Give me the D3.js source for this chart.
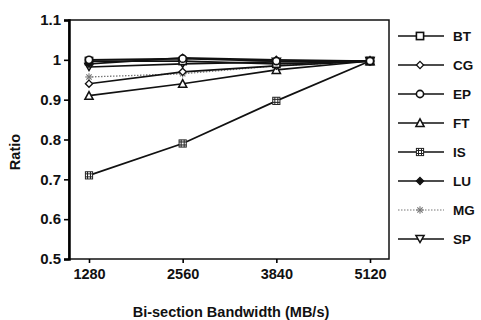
<!DOCTYPE html>
<html>
<head>
<meta charset="utf-8">
<script src="https://cdn.jsdelivr.net/npm/d3@7"></script>
<style>
  body { margin: 0; background: #fff; }
  svg text { font-family: "Liberation Sans", Arial, sans-serif; font-weight: bold; fill: #111; }
</style>
</head>
<body>
<div id="chart"></div>
<script>
const bandwidths = [1280, 2560, 3840, 5120];
const yTicks = [0.5, 0.6, 0.7, 0.8, 0.9, 1, 1.1];

const seriesNames = ["BT", "CG", "EP", "FT", "IS", "LU", "MG", "SP"];
const btVals = [0.997, 0.997, 0.99, 0.997];
const cgVals = [0.94, 0.97, 0.985, 0.997];
const epVals = [1.0, 1.003, 0.997, 0.997];
const ftVals = [0.91, 0.94, 0.975, 0.997];
const isVals = [0.71, 0.79, 0.897, 0.997];
const luVals = [0.99, 1.005, 1.0, 0.997];
const mgVals = [0.957, 0.965, 0.985, 0.997];
const spVals = [0.982, 0.99, 0.995, 0.997];

const symbolsFor = {
	BT: "square", CG: "diamond", EP: "circle", FT: "triangle",
	IS: "hash", LU: "fdiamond", MG: "star", SP: "tridown"
};

const series = [
	{ name: "BT", vals: btVals },
	{ name: "CG", vals: cgVals },
	{ name: "EP", vals: epVals },
	{ name: "FT", vals: ftVals },
	{ name: "IS", vals: isVals },
	{ name: "LU", vals: luVals },
	{ name: "MG", vals: mgVals },
	{ name: "SP", vals: spVals }
];

const W = 481, H = 320;
const plot = { left: 69, right: 389, top: 20, bottom: 259 };

const svg = d3.select("#chart").append("svg")
	.attr("width", W).attr("height", H);

const x = d3.scalePoint()
	.domain(bandwidths)
	.range([89, 370]);

const y = d3.scaleLinear()
	.domain([0.5, 1.1])
	.range([plot.bottom, plot.top]);

// frame
svg.append("rect")
	.attr("x", plot.left).attr("y", plot.top)
	.attr("width", plot.right - plot.left).attr("height", plot.bottom - plot.top)
	.attr("fill", "none").attr("stroke", "#111").attr("stroke-width", 1.5);

svg.append("g")
	.attr("transform", `translate(${plot.left},0)`)
	.call(d3.axisLeft(y).tickValues(yTicks).tickSize(5).tickPadding(3)
		.tickFormat(d => d === 1 ? "1" : d3.format(".1f")(d)))
	.call(g => g.select(".domain").attr("stroke-width", 2.5))
	.call(g => g.selectAll("line").attr("stroke-width", 1.6))
	.call(g => g.selectAll("text").attr("font-size", 15).style("font-family", "Liberation Sans, Arial, sans-serif"));

svg.append("g")
	.attr("transform", `translate(0,${plot.bottom})`)
	.call(d3.axisBottom(x).tickSize(4).tickPadding(6))
	.call(g => g.select(".domain").remove())
	.call(g => g.selectAll("line").attr("stroke-width", 1.6))
	.call(g => g.selectAll("text").attr("font-size", 14.5).style("font-family", "Liberation Sans, Arial, sans-serif"));

svg.append("text")
	.attr("transform", "translate(20,152) rotate(-90)")
	.attr("text-anchor", "middle")
	.attr("font-size", 14.5)
	.text("Ratio");

svg.append("text")
	.attr("x", 231).attr("y", 317)
	.attr("text-anchor", "middle")
	.attr("font-size", 14.5)
	.text("Bi-section Bandwidth (MB/s)");

function drawMarker(g, type, cx, cy) {
	const s = 3.6;
	if (type === "square") {
		g.append("rect").attr("x", cx - s).attr("y", cy - s).attr("width", 2 * s).attr("height", 2 * s)
			.attr("fill", "#fff").attr("stroke", "#111").attr("stroke-width", 1.6);
	} else if (type === "diamond" || type === "fdiamond") {
		g.append("path").attr("d", `M${cx},${cy - s}L${cx + s},${cy}L${cx},${cy + s}L${cx - s},${cy}Z`)
			.attr("fill", type === "fdiamond" ? "#111" : "#fff").attr("stroke", "#111").attr("stroke-width", 1.3);
	} else if (type === "circle") {
		g.append("circle").attr("cx", cx).attr("cy", cy).attr("r", s)
			.attr("fill", "#fff").attr("stroke", "#111").attr("stroke-width", 1.6);
	} else if (type === "triangle") {
		g.append("path").attr("d", `M${cx},${cy - s - 0.5}L${cx + s + 0.5},${cy + s}L${cx - s - 0.5},${cy + s}Z`)
			.attr("fill", "#fff").attr("stroke", "#111").attr("stroke-width", 1.5);
	} else if (type === "tridown") {
		g.append("path").attr("d", `M${cx - s - 0.5},${cy - s}L${cx + s + 0.5},${cy - s}L${cx},${cy + s}Z`)
			.attr("fill", "#fff").attr("stroke", "#111").attr("stroke-width", 1.5);
	} else if (type === "hash") {
		g.append("rect").attr("x", cx - s).attr("y", cy - s).attr("width", 2 * s).attr("height", 2 * s)
			.attr("fill", "#fff").attr("stroke", "#222").attr("stroke-width", 1);
		[-1.5, 1.5].forEach(o => {
			g.append("line").attr("x1", cx + o).attr("x2", cx + o).attr("y1", cy - s).attr("y2", cy + s)
				.attr("stroke", "#222").attr("stroke-width", 1);
			g.append("line").attr("y1", cy + o).attr("y2", cy + o).attr("x1", cx - s).attr("x2", cx + s)
				.attr("stroke", "#222").attr("stroke-width", 1);
		});
	} else if (type === "star") {
		const r = 3.8;
		d3.range(4).forEach(i => {
			const a = i * Math.PI / 4;
			g.append("line")
				.attr("x1", cx - r * Math.cos(a)).attr("y1", cy - r * Math.sin(a))
				.attr("x2", cx + r * Math.cos(a)).attr("y2", cy + r * Math.sin(a))
				.attr("stroke", "#777").attr("stroke-width", 1.1);
		});
	}
}

const line = d3.line().x((v, i) => x(bandwidths[i])).y(v => y(v));

// draw back to front so the top groups read like the reference
const order = ["MG", "IS", "FT", "CG", "SP", "BT", "LU", "EP"];
order.forEach(name => {
	const s = series.find(d => d.name === name);
	const g = svg.append("g");
	g.append("path").datum(s.vals).attr("d", line)
		.attr("fill", "none")
		.attr("stroke", name === "MG" ? "#777" : "#111")
		.attr("stroke-width", name === "MG" ? 1.3 : 1.7)
		.attr("stroke-dasharray", name === "MG" ? "1.5,1.5" : null);
	s.vals.forEach((v, i) => drawMarker(g, symbolsFor[name], x(bandwidths[i]), y(v)));
});

// legend
const legY = d3.scalePoint().domain(seriesNames).range([36, 239]);
seriesNames.forEach(name => {
	const g = svg.append("g");
	const ly = legY(name);
	g.append("line").attr("x1", 398).attr("x2", 444).attr("y1", ly).attr("y2", ly)
		.attr("stroke", name === "MG" ? "#777" : "#111")
		.attr("stroke-width", name === "MG" ? 1.2 : 1.6)
		.attr("stroke-dasharray", name === "MG" ? "1.5,1.5" : null);
	drawMarker(g, symbolsFor[name], 420, ly);
	g.append("text").attr("x", 453).attr("y", ly + 5).attr("font-size", 13.5).text(name);
});
</script>
</body>
</html>
